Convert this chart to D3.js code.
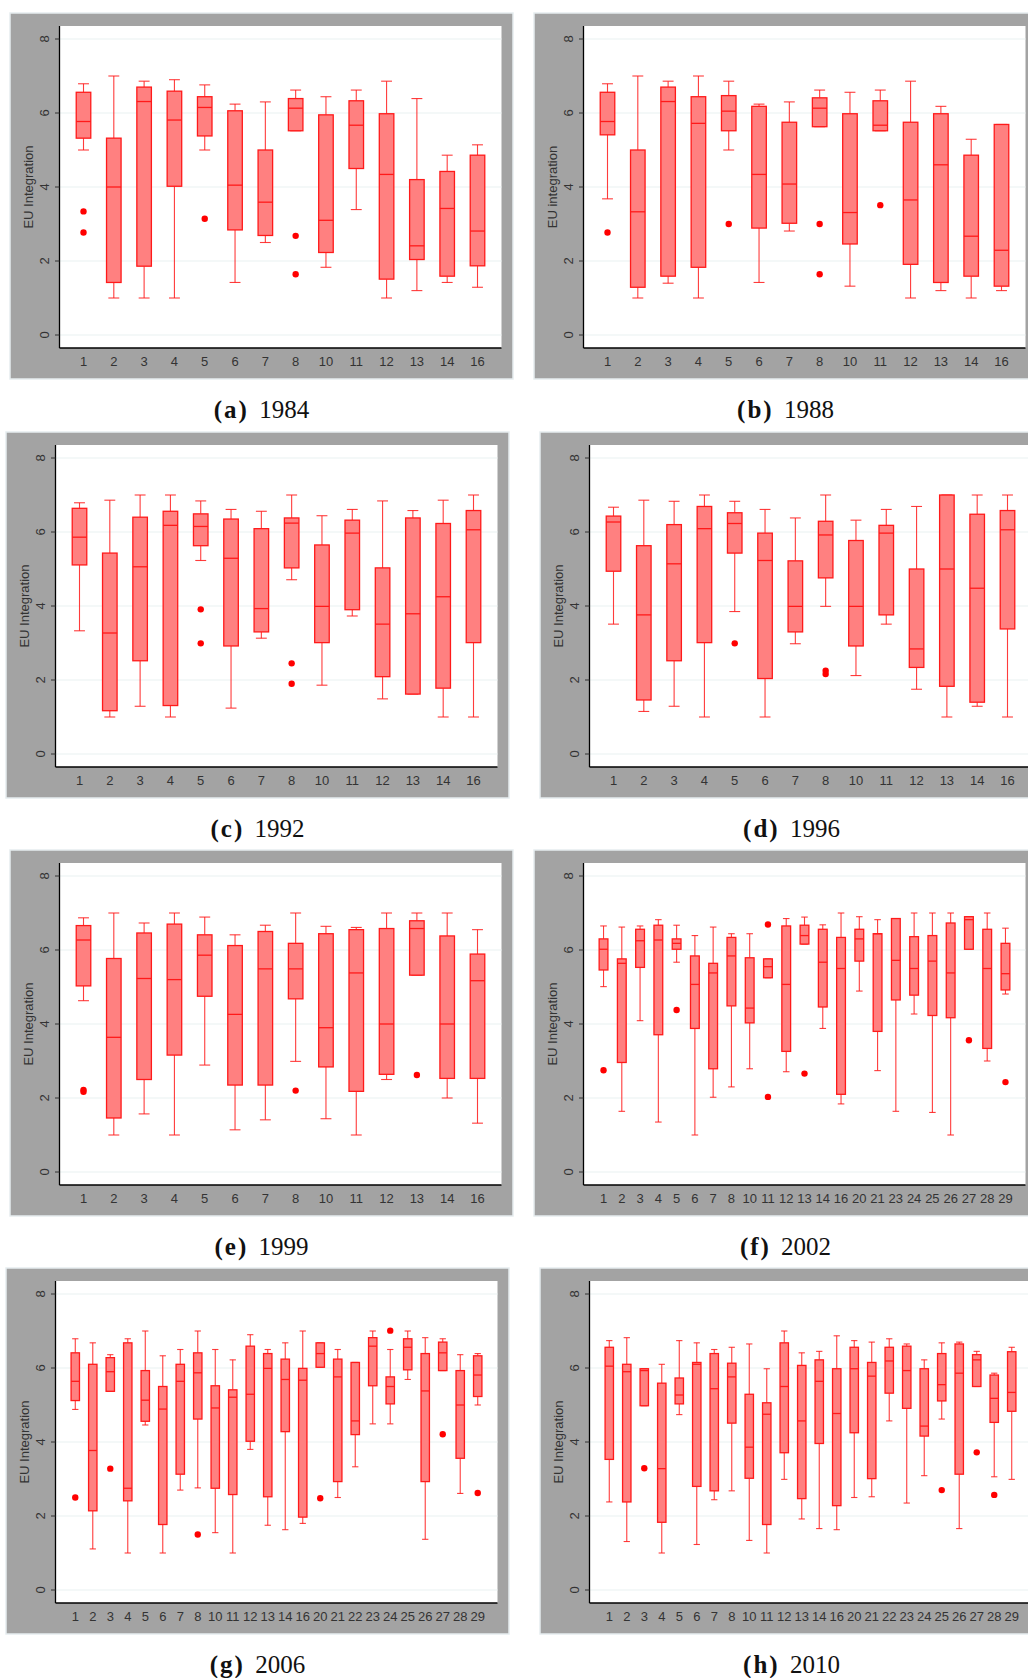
<!DOCTYPE html>
<html>
<head>
<meta charset="utf-8">
<script src="https://cdn.jsdelivr.net/npm/d3@7"></script>
<style>
  body { margin: 0; background: #fff; }
  .tick-lab { font-family: "Liberation Sans", Arial, sans-serif; font-size: 13px; fill: #333; }
  .caption { font-family: "Liberation Serif", "Times New Roman", serif; font-size: 25px; fill: #111; }
</style>
</head>
<body>
<div class="container"></div>
<script>
// categories (country codes)
const CATS_EARLY = [1, 2, 3, 4, 5, 6, 7, 8, 10, 11, 12, 13, 14, 16];
const CATS_2002 = [1, 2, 3, 4, 5, 6, 7, 8, 10, 11, 12, 13, 14, 16, 20, 21, 23, 24, 25, 26, 27, 28, 29];
const CATS_LATE = [1, 2, 3, 4, 5, 6, 7, 8, 10, 11, 12, 13, 14, 16, 20, 21, 22, 23, 24, 25, 26, 27, 28, 29];

const Y_TICKS = [0, 2, 4, 6, 8];

// box stats: [lower adjacent, q1, median, q3, upper adjacent]
const BOX_1984 = [
    [5.0, 5.32, 5.77, 6.56, 6.79], [1.0, 1.42, 4.0, 5.32, 7.0], [1.0, 1.86, 6.31, 6.70, 6.86],
    [1.0, 4.02, 5.81, 6.59, 6.90], [5.0, 5.38, 6.15, 6.44, 6.76], [1.42, 2.84, 4.05, 6.06, 6.24],
    [2.50, 2.69, 3.59, 5.0, 6.30], [5.52, 5.52, 6.13, 6.39, 6.62], [1.83, 2.23, 3.10, 5.95, 6.44],
    [3.39, 4.50, 5.67, 6.33, 6.62], [1.0, 1.51, 4.34, 5.98, 6.86], [1.20, 2.04, 2.41, 4.20, 6.39],
    [1.42, 1.59, 3.42, 4.42, 4.86], [1.29, 1.87, 2.81, 4.86, 5.14]
];
const OUT_1984 = [[1, 3.34], [1, 2.77], [5, 3.14], [8, 2.68], [8, 1.64]];

const BOX_1988 = [
    [3.68, 5.41, 5.77, 6.56, 6.79], [1.0, 1.29, 3.33, 5.0, 7.0], [1.40, 1.59, 6.31, 6.70, 6.86],
    [1.0, 1.83, 5.72, 6.44, 7.0], [5.0, 5.52, 6.05, 6.47, 6.86], [1.42, 2.89, 4.34, 6.18, 6.24],
    [2.81, 3.02, 4.08, 5.75, 6.30], [5.63, 5.63, 6.13, 6.41, 6.62], [1.32, 2.46, 3.31, 5.98, 6.56],
    [5.52, 5.52, 5.67, 6.33, 6.62], [1.0, 1.91, 3.65, 5.75, 6.86], [1.20, 1.42, 4.60, 5.98, 6.18],
    [1.0, 1.59, 2.67, 4.86, 5.29], [1.20, 1.32, 2.29, 5.69, 5.69]
];
const OUT_1988 = [[1, 2.77], [5, 3.0], [8, 3.0], [8, 1.64], [11, 3.51]];

const BOX_1992 = [
    [3.33, 5.11, 5.86, 6.64, 6.79], [1.0, 1.17, 3.27, 5.43, 6.86], [1.29, 2.52, 5.06, 6.40, 7.0],
    [1.0, 1.31, 6.18, 6.56, 7.0], [5.23, 5.63, 6.15, 6.49, 6.84], [1.24, 2.92, 5.29, 6.35, 6.61],
    [3.13, 3.30, 3.93, 6.09, 6.56], [4.71, 5.03, 6.24, 6.38, 7.0], [1.86, 3.01, 3.99, 5.65, 6.44],
    [3.73, 3.90, 5.97, 6.32, 6.61], [1.49, 2.09, 3.51, 5.03, 6.84], [1.62, 1.62, 3.79, 6.38, 6.58],
    [1.0, 1.78, 4.25, 6.23, 6.86], [1.0, 3.01, 6.06, 6.58, 7.0]
];
const OUT_1992 = [[5, 3.91], [5, 2.99], [8, 2.45], [8, 1.90]];

const BOX_1996 = [
    [3.51, 4.94, 6.27, 6.43, 6.67], [1.15, 1.46, 3.76, 5.63, 6.86], [1.29, 2.52, 5.14, 6.20, 6.83],
    [1.0, 3.01, 6.09, 6.69, 7.0], [3.85, 5.43, 6.23, 6.52, 6.83], [1.0, 2.04, 5.23, 5.97, 6.61],
    [2.98, 3.30, 3.99, 5.22, 6.38], [3.99, 4.76, 5.92, 6.29, 7.0], [2.12, 2.92, 3.99, 5.77, 6.32],
    [3.51, 3.76, 5.97, 6.18, 6.61], [1.75, 2.34, 2.84, 5.0, 6.69], [1.0, 1.83, 5.0, 7.0, 7.0],
    [1.29, 1.40, 4.48, 6.48, 7.0], [1.0, 3.38, 6.06, 6.58, 7.0]
];
const OUT_1996 = [[5, 2.99], [8, 2.25], [8, 2.16]];

const BOX_1999 = [
    [4.63, 5.03, 6.27, 6.66, 6.87], [1.0, 1.46, 3.64, 5.77, 7.0], [1.57, 2.50, 5.23, 6.46, 6.73],
    [1.0, 3.16, 5.20, 6.70, 7.0], [2.89, 4.75, 5.86, 6.41, 6.89], [1.14, 2.35, 4.26, 6.12, 6.41],
    [1.41, 2.35, 5.49, 6.50, 6.67], [2.99, 4.68, 5.49, 6.18, 7.0], [1.44, 2.84, 3.90, 6.44, 6.64],
    [1.0, 2.18, 5.38, 6.55, 6.61], [2.50, 2.64, 4.0, 6.58, 7.0], [5.32, 5.32, 6.58, 6.79, 7.0],
    [2.0, 2.53, 4.0, 6.38, 7.0], [1.32, 2.53, 5.17, 5.89, 6.55]
];
const OUT_1999 = [[1, 2.22], [1, 2.17], [8, 2.20], [13, 2.62]];

const BOX_2002 = [
    [5.01, 5.46, 6.02, 6.30, 6.65], [1.64, 2.96, 5.64, 5.76, 6.62], [4.09, 5.53, 6.25, 6.56, 6.65],
    [1.35, 3.71, 6.27, 6.67, 6.82], [5.67, 6.02, 6.18, 6.30, 6.67], [1.0, 3.88, 5.07, 5.84, 6.39],
    [2.02, 2.79, 5.38, 5.64, 6.62], [2.30, 4.49, 5.84, 6.34, 6.44], [2.79, 4.03, 4.43, 5.79, 6.44],
    [5.25, 5.25, 5.55, 5.76, 5.76], [2.71, 3.26, 5.07, 6.65, 6.85], [6.16, 6.16, 6.39, 6.67, 6.89],
    [3.88, 4.46, 5.67, 6.56, 6.68], [1.84, 2.10, 5.50, 6.34, 7.0], [4.89, 5.70, 6.30, 6.56, 6.90],
    [2.74, 3.80, 6.44, 6.44, 6.82], [1.64, 4.65, 5.72, 6.85, 6.85], [4.27, 4.78, 5.50, 6.36, 7.0],
    [1.61, 4.23, 5.70, 6.39, 7.0], [1.0, 4.17, 5.38, 6.73, 7.0], [6.02, 6.02, 6.82, 6.90, 6.90],
    [3.0, 3.34, 5.50, 6.56, 7.0], [4.81, 4.92, 5.36, 6.18, 6.59]
];
const OUT_2002 = [[1, 2.75], [5, 4.38], [11, 6.69], [11, 2.03], [13, 2.66], [27, 3.56], [29, 2.43]];

const BOX_2006 = [
    [4.88, 5.12, 5.64, 6.41, 6.79], [1.11, 2.14, 3.77, 6.10, 6.68], [5.37, 5.37, 5.90, 6.28, 6.36],
    [1.0, 2.41, 2.75, 6.68, 6.79], [4.46, 4.56, 5.13, 5.93, 7.0], [1.0, 1.77, 4.89, 5.50, 6.33],
    [2.70, 3.13, 5.64, 6.10, 6.50], [2.76, 4.62, 5.87, 6.41, 7.0], [1.55, 2.75, 4.92, 5.52, 6.50],
    [1.0, 2.58, 5.21, 5.41, 6.22], [3.80, 4.02, 5.29, 6.59, 6.90], [1.75, 2.52, 5.99, 6.39, 6.50],
    [1.63, 4.28, 5.69, 6.24, 6.68], [1.80, 1.97, 5.67, 5.99, 7.0], [6.02, 6.02, 6.39, 6.68, 6.68],
    [2.50, 2.93, 5.76, 6.24, 6.50], [3.33, 4.20, 4.57, 6.15, 6.15], [4.49, 5.52, 6.59, 6.82, 7.0],
    [4.49, 5.03, 5.50, 5.76, 6.50], [5.69, 5.95, 6.56, 6.79, 7.0], [1.37, 2.93, 5.38, 6.39, 6.82],
    [5.93, 5.93, 6.41, 6.70, 6.79], [2.61, 3.56, 5.0, 5.93, 6.36], [5.0, 5.23, 5.81, 6.33, 6.39]
];
const OUT_2006 = [[1, 2.50], [3, 3.28], [8, 1.50], [20, 2.48], [24, 7.01], [27, 4.21], [29, 2.62]];

const BOX_2010 = [
    [2.38, 3.53, 6.05, 6.56, 6.74], [1.31, 2.38, 5.90, 6.10, 6.82], [4.98, 4.98, 5.93, 5.98, 5.98],
    [1.0, 1.83, 3.28, 5.59, 6.10], [4.74, 5.03, 5.27, 5.73, 6.74], [1.23, 2.80, 6.10, 6.15, 6.68],
    [2.44, 2.68, 5.44, 6.39, 6.50], [2.68, 4.51, 5.76, 6.13, 6.56], [1.34, 3.02, 3.86, 5.29, 6.65],
    [1.0, 1.77, 4.75, 5.06, 5.98], [2.99, 3.71, 5.50, 6.68, 7.0], [1.92, 2.47, 4.57, 6.07, 6.41],
    [1.66, 3.96, 5.64, 6.22, 6.45], [1.63, 2.28, 4.77, 5.98, 6.87], [2.50, 4.25, 5.98, 6.56, 6.74],
    [2.52, 3.01, 5.78, 6.15, 6.70], [4.57, 5.32, 6.19, 6.56, 6.79], [2.35, 4.91, 5.93, 6.59, 6.65],
    [3.09, 4.16, 4.43, 5.98, 6.22], [4.62, 5.11, 5.55, 6.39, 6.68], [1.66, 3.13, 5.86, 6.65, 6.70],
    [5.50, 5.50, 6.22, 6.36, 6.45], [3.06, 4.53, 5.18, 5.81, 5.86], [2.99, 4.83, 5.34, 6.44, 6.56]
];
const OUT_2010 = [[3, 3.29], [25, 2.70], [27, 3.72], [28, 2.57]];

const LETTERS = ['a', 'b', 'c', 'd', 'e', 'f', 'g', 'h'];
const YEARS = ['1984', '1988', '1992', '1996', '1999', '2002', '2006', '2010'];
const Y_TITLES = ['EU Integration', 'EU integration', 'EU Integration', 'EU Integration',
    'EU Integration', 'EU Integration', 'EU Integration', 'EU Integration'];

const PANELS = [
    {cats: CATS_EARLY, boxes: BOX_1984, outs: OUT_1984},
    {cats: CATS_EARLY, boxes: BOX_1988, outs: OUT_1988},
    {cats: CATS_EARLY, boxes: BOX_1992, outs: OUT_1992},
    {cats: CATS_EARLY, boxes: BOX_1996, outs: OUT_1996},
    {cats: CATS_EARLY, boxes: BOX_1999, outs: OUT_1999},
    {cats: CATS_2002, boxes: BOX_2002, outs: OUT_2002},
    {cats: CATS_LATE, boxes: BOX_2006, outs: OUT_2006},
    {cats: CATS_LATE, boxes: BOX_2010, outs: OUT_2010}
];

// layout
const WIDTH = 1028;
const HEIGHT = 1678;
const PANEL_XY = [[10, 13], [534, 13], [6, 432], [540, 432], [10, 850], [534, 850], [6, 1268], [540, 1268]];
const PANEL_W = 503;
const PANEL_H = 366;
const PLOT_LEFT = 49.5;
const PLOT_TOP = 13;
const PLOT_W = 442;
const PLOT_H = 322;

const RED = '#ff1a1a';
const FILL = '#ff8080';

const svg = d3.select('.container').append('svg')
    .attr('width', WIDTH)
    .attr('height', HEIGHT)
    .style('display', 'block');

PANELS.forEach((p, i) => {
    const [gx, gy] = PANEL_XY[i];
    const px = gx + PLOT_LEFT;
    const py = gy + PLOT_TOP;

    const g = svg.append('g');

    // grey outer region
    g.append('rect')
        .attr('x', gx).attr('y', gy)
        .attr('width', PANEL_W).attr('height', PANEL_H)
        .attr('fill', '#a3a3a3')
        .attr('stroke', '#e6edef')
        .attr('stroke-width', 1.5);

    g.append('rect')
        .attr('x', px).attr('y', py)
        .attr('width', PLOT_W).attr('height', PLOT_H)
        .attr('fill', '#fff');

    const x = d3.scalePoint()
        .domain(p.cats)
        .range([px + 14, px + PLOT_W - 14])
        .padding(0.33);

    const y = d3.scaleLinear()
        .domain([0, 8])
        .range([py + PLOT_H - 13, py + 13]);

    const step = x.step();
    const bw = step * 0.48;
    const cw = bw * 0.75;

    // grid
    g.selectAll('.grid').data(Y_TICKS).enter().append('line')
        .attr('x1', px).attr('x2', px + PLOT_W)
        .attr('y1', d => y(d)).attr('y2', d => y(d))
        .attr('stroke', '#eaf1f2')
        .attr('stroke-width', 1.2);

    const boxes = g.selectAll('.box').data(p.boxes).enter().append('g');

    // whiskers
    boxes.append('line')
        .attr('x1', (d, j) => x(p.cats[j])).attr('x2', (d, j) => x(p.cats[j]))
        .attr('y1', d => y(d[4])).attr('y2', d => y(d[3]))
        .attr('stroke', RED).attr('stroke-width', 1.1).attr('stroke-opacity', 0.85);
    boxes.append('line')
        .attr('x1', (d, j) => x(p.cats[j])).attr('x2', (d, j) => x(p.cats[j]))
        .attr('y1', d => y(d[1])).attr('y2', d => y(d[0]))
        .attr('stroke', RED).attr('stroke-width', 1.1).attr('stroke-opacity', 0.85);
    // caps
    [0, 4].forEach(k => {
        boxes.append('line')
            .attr('x1', (d, j) => x(p.cats[j]) - cw / 2).attr('x2', (d, j) => x(p.cats[j]) + cw / 2)
            .attr('y1', d => y(d[k])).attr('y2', d => y(d[k]))
            .attr('stroke', RED).attr('stroke-width', 1.1).attr('stroke-opacity', 0.85);
    });
    // boxes
    boxes.append('rect')
        .attr('x', (d, j) => x(p.cats[j]) - bw / 2)
        .attr('y', d => y(d[3]))
        .attr('width', bw)
        .attr('height', d => y(d[1]) - y(d[3]))
        .attr('fill', FILL)
        .attr('stroke', RED)
        .attr('stroke-width', 1.3);
    // medians
    boxes.append('line')
        .attr('x1', (d, j) => x(p.cats[j]) - bw / 2).attr('x2', (d, j) => x(p.cats[j]) + bw / 2)
        .attr('y1', d => y(d[2])).attr('y2', d => y(d[2]))
        .attr('stroke', RED).attr('stroke-width', 1.3);

    // outside values
    g.selectAll('.out').data(p.outs).enter().append('circle')
        .attr('cx', d => x(d[0]))
        .attr('cy', d => y(d[1]))
        .attr('r', 3.2)
        .attr('fill', '#ff0000');

    // axes lines
    g.append('line')
        .attr('x1', px).attr('x2', px)
        .attr('y1', py).attr('y2', py + PLOT_H)
        .attr('stroke', '#000').attr('stroke-width', 1.3);
    g.append('line')
        .attr('x1', px).attr('x2', px + PLOT_W)
        .attr('y1', py + PLOT_H).attr('y2', py + PLOT_H)
        .attr('stroke', '#000').attr('stroke-width', 1.3);

    // y ticks
    g.selectAll('.yt').data(Y_TICKS).enter().append('line')
        .attr('x1', px - 4.5).attr('x2', px)
        .attr('y1', d => y(d)).attr('y2', d => y(d))
        .attr('stroke', '#333').attr('stroke-width', 1);
    g.selectAll('.yl').data(Y_TICKS).enter().append('text')
        .attr('class', 'tick-lab')
        .attr('text-anchor', 'middle')
        .attr('transform', d => `translate(${px - 11}, ${y(d)})rotate(-90)`)
        .text(d => d);

    // x labels
    g.selectAll('.xl').data(p.cats).enter().append('text')
        .attr('class', 'tick-lab')
        .attr('text-anchor', 'middle')
        .attr('x', d => x(d))
        .attr('y', py + PLOT_H + 18)
        .text(d => d);

    // y title
    g.append('text')
        .attr('class', 'tick-lab')
        .attr('text-anchor', 'middle')
        .attr('transform', `translate(${gx + 22.5}, ${py + PLOT_H / 2})rotate(-90)`)
        .text(Y_TITLES[i]);

    // caption
    const cap = svg.append('text')
        .attr('class', 'caption')
        .attr('text-anchor', 'middle')
        .attr('x', gx + PANEL_W / 2)
        .attr('y', gy + PANEL_H + 39);
    cap.append('tspan')
        .attr('font-weight', 'bold')
        .attr('letter-spacing', '2px')
        .text(`(${LETTERS[i]})`);
    cap.append('tspan')
        .attr('dx', 4)
        .text(` ${YEARS[i]}`);
});
</script>
</body>
</html>
